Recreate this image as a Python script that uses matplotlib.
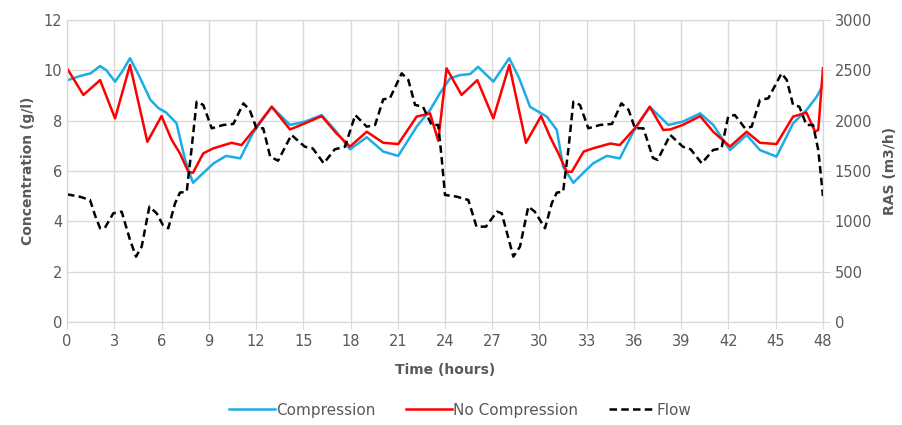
import numpy as np
import matplotlib
matplotlib.use("Agg")
import matplotlib.pyplot as plt

# values
comp_t = [0, 0.8, 1.5, 2.1, 2.5, 3.05, 3.5, 4.0, 4.6, 5.3, 5.8, 6.3, 6.95, 7.5, 8.0,
          8.4, 9.3, 10.1, 11.0, 11.8, 13.0, 14.16, 15.1, 16.17, 17.1, 17.97, 19.03,
          20.08, 21.03, 22.2, 23.05, 23.68, 24.32, 24.95, 25.6, 26.1, 27.07, 28.08,
          28.7, 29.4, 30.46, 31.1, 31.5, 32.15, 32.5, 33.4, 34.27, 35.1, 35.96, 37.0,
          38.18, 39.1, 40.2, 41.03, 42.1, 43.15, 44.0, 45.05, 46.1, 46.95, 47.6, 48]
comp_v = [9.6, 9.77, 9.88, 10.17, 10.0, 9.55, 9.95, 10.48, 9.75, 8.82, 8.5, 8.32, 7.9,
          6.44, 5.53, 5.77, 6.3, 6.6, 6.5, 7.5, 8.55, 7.83, 7.96, 8.22, 7.56, 6.86,
          7.34, 6.77, 6.6, 7.76, 8.42, 9.09, 9.68, 9.81, 9.85, 10.14, 9.55, 10.48,
          9.7, 8.55, 8.16, 7.63, 6.17, 5.53, 5.75, 6.3, 6.6, 6.5, 7.56, 8.55, 7.83,
          7.96, 8.29, 7.83, 6.83, 7.43, 6.83, 6.57, 7.89, 8.42, 8.95, 9.42]

nocomp_t = [0, 1.04, 2.1, 3.05, 4.0, 5.1, 6.0, 6.65, 7.17, 7.7, 8.0, 8.65, 9.29, 10.45,
            11.08, 12.03, 13.0, 14.16, 15.1, 16.17, 17.1, 17.97, 19.03, 20.08, 21.03,
            22.2, 23.05, 23.57, 24.1, 25.05, 26.05, 27.07, 28.08, 29.14, 30.1, 30.67,
            31.2, 31.73, 32.05, 32.8, 33.4, 34.5, 35.1, 36.06, 37.0, 37.86, 38.3, 39.1,
            40.2, 41.03, 42.1, 43.15, 44.0, 45.05, 46.1, 46.95, 47.5, 47.7, 48.0]
nocomp_v = [10.08, 9.02, 9.61, 8.09, 10.21, 7.16, 8.18, 7.23, 6.7, 5.97, 5.93, 6.7, 6.9,
            7.12, 7.03, 7.76, 8.55, 7.65, 7.89, 8.18, 7.5, 6.97, 7.56, 7.12, 7.07, 8.16,
            8.29, 7.2, 10.08, 9.02, 9.61, 8.09, 10.21, 7.12, 8.18, 7.36, 6.7, 5.97, 5.97,
            6.77, 6.9, 7.09, 7.03, 7.7, 8.55, 7.63, 7.65, 7.83, 8.18, 7.56, 6.97, 7.56,
            7.12, 7.07, 8.16, 8.32, 7.56, 7.63, 10.08]

flow_t = [0, 0.8, 1.46, 1.8, 2.1, 2.4, 2.94, 3.47, 4.0, 4.38, 4.74, 5.23, 5.69, 6.1, 6.43,
          6.86, 7.17, 7.6, 7.9, 8.23, 8.65, 9.19, 9.93, 10.56, 11.2, 11.6, 12.03, 12.46,
          12.9, 13.4, 14.25, 15.1, 15.6, 16.3, 17.0, 17.65, 18.3, 19.03, 19.56, 20.08,
          20.5, 21.25, 21.67, 22.1, 22.6, 23.15, 23.57, 23.78, 24.0, 24.74, 25.48, 26.0,
          26.6, 27.3, 27.6, 28.34, 28.76, 29.29, 29.7, 30.35, 30.78, 31.1, 31.5, 31.83,
          32.15, 32.57, 33.1, 33.84, 34.6, 35.2, 35.66, 36.06, 36.6, 37.2, 37.5, 38.3,
          39.1, 39.6, 40.3, 41.03, 41.56, 41.98, 42.4, 43.05, 43.47, 44.0, 44.53, 45.37,
          45.7, 46.1, 46.5, 46.95, 47.37, 47.7, 48.0]
flow_v = [1268, 1245, 1212, 1050, 931, 934, 1080, 1096, 815, 649, 748, 1146, 1080, 960,
          931, 1179, 1285, 1295, 1709, 2188, 2156, 1924, 1957, 1967, 2172, 2106, 1924,
          1924, 1642, 1602, 1858, 1741, 1725, 1576, 1715, 1741, 2056, 1940, 1957, 2212,
          2222, 2470, 2404, 2156, 2139, 1957, 1957, 1642, 1262, 1245, 1212, 947, 947,
          1096, 1080, 649, 748, 1146, 1096, 931, 1179, 1285, 1295, 1709, 2188, 2156,
          1924, 1957, 1967, 2172, 2106, 1924, 1924, 1630, 1610, 1858, 1741, 1715, 1576,
          1709, 1725, 2040, 2056, 1924, 1940, 2205, 2222, 2470, 2404, 2156, 2139, 1957,
          1957, 1709, 1250]

x_ticks = list(range(0, 49, 3))
left_ticks = list(range(0, 13, 2))
right_ticks = list(range(0, 3001, 500))

plt.rcParams['font.family'] = ['DejaVu Sans']
grey = '#595959'
gridc = '#d9d9d9'

fig = plt.figure(figsize=(9.02, 4.25), dpi=100)
ax = fig.add_axes([0.0743, 0.2424, 0.8381, 0.7106])
ax2 = ax.twinx()

l1, = ax.plot(comp_t, comp_v, color='#1cade4', lw=1.8, label='Compression')
l2, = ax.plot(nocomp_t, nocomp_v, color='#ff0000', lw=1.8, label='No Compression')
l3, = ax2.plot(flow_t, flow_v, color='black', lw=1.8, ls=(0, (3, 1.7)), label='Flow')

ax.set_xlim(0, 48)
ax.set_ylim(0, 12)
ax2.set_ylim(0, 3000)
ax.set_xticks(x_ticks)
ax.set_yticks(left_ticks)
ax2.set_yticks(right_ticks)
ax.grid(True, color=gridc, lw=1)
ax.set_axisbelow(True)

for a in (ax, ax2):
    for s in a.spines.values():
        s.set_color(gridc)
    a.tick_params(colors=gridc, labelcolor=grey, labelsize=10.5, length=5)
ax.tick_params(axis='y', length=0)

ax.set_xlabel('Time (hours)', fontsize=10, fontweight='bold', color=grey, labelpad=10)
ax.set_ylabel('Concentration (g/l)', fontsize=10, fontweight='bold', color=grey, labelpad=6)
ax2.set_ylabel('RAS (m3/h)', fontsize=10, fontweight='bold', color=grey, labelpad=8)

leg = fig.legend(handles=[l1, l2, l3], loc='center', bbox_to_anchor=(0.51, 0.035),
                 ncol=3, frameon=False, fontsize=11, handlelength=3.0,
                 handletextpad=0.1, columnspacing=2.0)
for t in leg.get_texts():
    t.set_color(grey)

fig.savefig('out.png', dpi=100)
